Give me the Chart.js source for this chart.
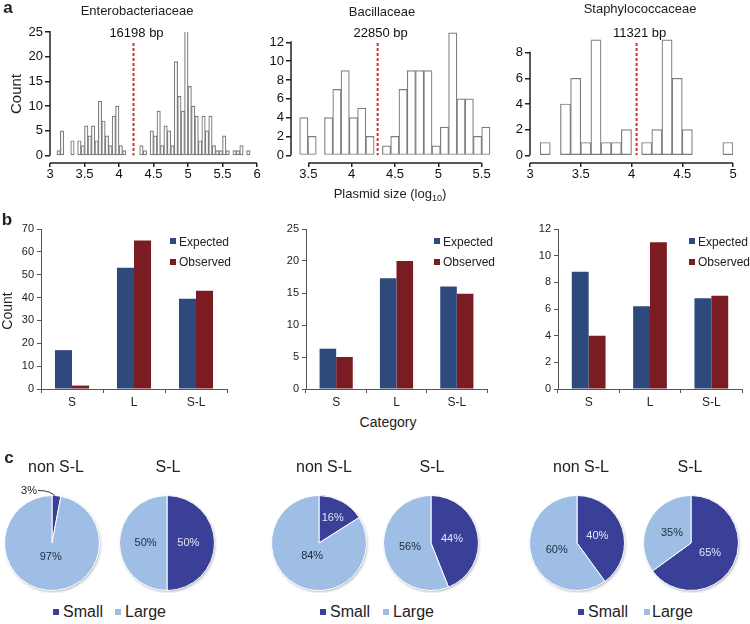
<!DOCTYPE html>
<html>
<head>
<meta charset="utf-8">
<script src="https://cdn.jsdelivr.net/npm/chart.js@4.4.1/dist/chart.umd.min.js"></script>
<style>
body{margin:0;background:#fff;}
#fig{position:relative;width:750px;height:624px;overflow:hidden;background:#fff;font-family:"Liberation Sans",Arial,sans-serif;color:#222;}
#fig canvas{position:absolute;}
.t{position:absolute;white-space:nowrap;line-height:1;transform:translate(-50%,-50%);}
.rot{transform:translate(-50%,-50%) rotate(-90deg);}
.lt{position:absolute;white-space:nowrap;line-height:1;transform:translateY(-50%);}
.sw{position:absolute;width:6px;height:6px;}
.big{font-weight:bold;font-size:17px;}
</style>
</head>
<body>
<div id="fig">

<canvas id="h1" width="262" height="185" style="left:0;top:0"></canvas>
<canvas id="h2" width="262" height="185" style="left:240px;top:0"></canvas>
<canvas id="h3" width="270" height="185" style="left:480px;top:0"></canvas>

<canvas id="b1" width="232" height="212" style="left:0;top:200px"></canvas>
<canvas id="b2" width="227" height="212" style="left:265px;top:200px"></canvas>
<canvas id="b3" width="233" height="212" style="left:517px;top:200px"></canvas>

<canvas id="p1" width="110" height="130" style="left:-3px;top:463px"></canvas>
<canvas id="p2" width="110" height="130" style="left:112px;top:463px"></canvas>
<canvas id="p3" width="110" height="130" style="left:264px;top:463px"></canvas>
<canvas id="p4" width="110" height="130" style="left:376px;top:463px"></canvas>
<canvas id="p5" width="110" height="130" style="left:522px;top:463px"></canvas>
<canvas id="p6" width="110" height="130" style="left:636px;top:463px"></canvas>

<!-- panel a text -->
<div class="t big" style="left:8px;top:7px">a</div>
<div class="t" style="left:137px;top:10px;font-size:13px">Enterobacteriaceae</div>
<div class="t" style="left:382px;top:11px;font-size:13px">Bacillaceae</div>
<div class="t" style="left:640px;top:8px;font-size:13px">Staphylococcaceae</div>
<div class="t rot" style="left:15px;top:94px;font-size:15px">Count</div>
<div class="t" style="left:390px;top:195px;font-size:13px">Plasmid size (log<sub style="font-size:9px">10</sub>)</div>

<!-- panel b text -->
<div class="t big" style="left:7px;top:219px">b</div>
<div class="t rot" style="left:7px;top:311px;font-size:14px">Count</div>
<div class="t" style="left:388px;top:422px;font-size:14px">Category</div>

<div class="sw" style="left:170px;top:238px;background:#2e4a7c"></div>
<div class="lt" style="left:179px;top:242px;font-size:12px">Expected</div>
<div class="sw" style="left:170px;top:259px;background:#7b1c22"></div>
<div class="lt" style="left:179px;top:262px;font-size:12px">Observed</div>

<div class="sw" style="left:434px;top:238px;background:#2e4a7c"></div>
<div class="lt" style="left:443px;top:242px;font-size:12px">Expected</div>
<div class="sw" style="left:434px;top:259px;background:#7b1c22"></div>
<div class="lt" style="left:443px;top:262px;font-size:12px">Observed</div>

<div class="sw" style="left:689px;top:238px;background:#2e4a7c"></div>
<div class="lt" style="left:698px;top:242px;font-size:12px">Expected</div>
<div class="sw" style="left:689px;top:259px;background:#7b1c22"></div>
<div class="lt" style="left:698px;top:262px;font-size:12px">Observed</div>

<!-- panel c text -->
<div class="t big" style="left:9px;top:457px">c</div>
<div class="t" style="left:56px;top:467px;font-size:16px">non S-L</div>
<div class="t" style="left:168px;top:467px;font-size:16px">S-L</div>
<div class="t" style="left:324px;top:467px;font-size:16px">non S-L</div>
<div class="t" style="left:432px;top:467px;font-size:16px">S-L</div>
<div class="t" style="left:581px;top:467px;font-size:16px">non S-L</div>
<div class="t" style="left:690px;top:467px;font-size:16px">S-L</div>

<div class="sw" style="left:53px;top:609px;background:#3a4098"></div>
<div class="lt" style="left:63px;top:612px;font-size:16px">Small</div>
<div class="sw" style="left:115px;top:609px;background:#9ebee6"></div>
<div class="lt" style="left:125px;top:612px;font-size:16px">Large</div>

<div class="sw" style="left:320px;top:609px;background:#3a4098"></div>
<div class="lt" style="left:330px;top:612px;font-size:16px">Small</div>
<div class="sw" style="left:383px;top:609px;background:#9ebee6"></div>
<div class="lt" style="left:393px;top:612px;font-size:16px">Large</div>

<div class="sw" style="left:578px;top:609px;background:#3a4098"></div>
<div class="lt" style="left:588px;top:612px;font-size:16px">Small</div>
<div class="sw" style="left:644px;top:609px;background:#9ebee6"></div>
<div class="lt" style="left:652px;top:612px;font-size:16px">Large</div>

</div>

<script>
// DATA

// histograms: counts per log10 size bin
const enteroStart = 3.10, enteroWidth = 0.05;
const enteroCounts = [1,5,0,0,3,0,3,2,6,4,6,3,11,7,4,2,8,10,2,1,0,0,0,0,2,1,0,5,4,9,2,6,5,2,19,12,9,26,14,10,8,3,8,5,8,2,1,1,4,1,0,1,1,2,0,1];
const bacilStart = 3.40, bacilWidth = 0.0955;
const bacilCounts = [4,2,0,4,7,9,4,5,2,0,1,2,7,9,9,9,1,3,13,6,6,2,3];
const staphStart = 3.10, staphWidth = 0.10;
const staphCounts = [1,0,4,6,1,9,1,1,2,0,1,2,9,6,2,0,0,0,1];

const medianLabels = ["16198 bp", "22850 bp", "11321 bp"];
const medianPos = [4.21, 4.30, 4.05];

const enteroXTicks = [3, 3.5, 4, 4.5, 5, 5.5, 6];
const bacilXTicks = [3.5, 4, 4.5, 5, 5.5];
const staphXTicks = [3, 3.5, 4, 4.5, 5];
const enteroYTicks = [0, 5, 10, 15, 20, 25];
const bacilYTicks = [0, 2, 4, 6, 8, 10, 12];
const staphYTicks = [0, 2, 4, 6, 8];

// expected vs observed counts
const categories = ["S", "L", "S-L"];
const enteroExpected = [17, 53, 39.5];
const enteroObserved = [1.5, 65, 43];
const bacilExpected = [6.3, 17.3, 16];
const bacilObserved = [5, 20, 14.9];
const staphExpected = [8.8, 6.2, 6.8];
const staphObserved = [4, 11, 7];

// pies: percent small / large
const sizeLabels = ["Small", "Large"];
const pieSmall = [3, 50, 16, 44, 40, 65];
const pieLarge = [97, 50, 84, 56, 60, 35];

// DEFAULTS

Chart.defaults.font.family = '"Liberation Sans", Arial, sans-serif';
Chart.defaults.color = '#222';
Chart.defaults.animation = false;
Chart.defaults.responsive = false;
Chart.defaults.devicePixelRatio = 1;
Chart.defaults.plugins.legend.display = false;
Chart.defaults.plugins.tooltip.enabled = false;

// HISTOGRAM AXES + MEDIAN LINE

const prismAxes = {
id: 'prism',
afterDatasetsDraw(chart, args, opts){
const ctx = chart.ctx;
const a = chart.chartArea;
const x = chart.scales.x, y = chart.scales.y;
const xt = x.ticks, yt = y.ticks;
ctx.save();
ctx.strokeStyle = '#222';
ctx.lineWidth = 1.5;
ctx.beginPath();
ctx.moveTo(a.left, y.getPixelForValue(yt[0].value));
ctx.lineTo(a.left, y.getPixelForValue(yt[yt.length-1].value) - 1);
ctx.moveTo(x.getPixelForValue(xt[0].value), a.bottom);
ctx.lineTo(x.getPixelForValue(xt[xt.length-1].value), a.bottom);
ctx.stroke();

const mx = x.getPixelForValue(opts.median);
ctx.strokeStyle = '#d5352e';
ctx.lineWidth = 2;
ctx.setLineDash([3, 2]);
ctx.beginPath();
ctx.moveTo(mx, 43);
ctx.lineTo(mx, y.getPixelForValue(0));
ctx.stroke();
ctx.setLineDash([]);

ctx.fillStyle = '#111';
ctx.font = '13px "Liberation Sans", Arial, sans-serif';
ctx.textAlign = 'center';
ctx.textBaseline = 'middle';
ctx.fillText(opts.label, mx + 3, 33);
ctx.restore();
}
};

function histogram(id, start, width, counts, xr, yr, xTicks, yTicks, median, label, pad, yW){

let pts = counts.map(function(c, i){ return {x: start + width * (i + 0.5), y: c}; });

new Chart(document.getElementById(id), {
type: 'bar',
data: {
datasets: [{
data: pts,
backgroundColor: '#fff',
borderColor: '#7d7d7d',
borderWidth: 1.2,
borderSkipped: false,
barPercentage: 1,
categoryPercentage: 1
}]
},
options: {
layout: {padding: pad},
scales: {
x: {
type: 'linear', min: xr[0], max: xr[1], offset: false,
afterBuildTicks: function(s){ s.ticks = xTicks.map(function(v){ return {value: v}; }); },
afterFit: function(s){ s.height = 22; s.paddingLeft = 0; s.paddingRight = 0; },
border: {display: false},
grid: {drawOnChartArea: false, offset: false, tickLength: 4, color: '#222', lineWidth: 1.5},
ticks: {padding: 0, color: '#111', font: {size: 13}, maxRotation: 0, callback: function(v){ return String(v); }}
},
y: {
min: yr[0], max: yr[1],
afterBuildTicks: function(s){ s.ticks = yTicks.map(function(v){ return {value: v}; }); },
afterFit: function(s){ s.width = yW; s.paddingTop = 0; s.paddingBottom = 0; },
border: {display: false},
grid: {drawOnChartArea: false, tickLength: 5, color: '#222', lineWidth: 1.5},
ticks: {padding: 2, color: '#111', font: {size: 13}, callback: function(v){ return String(v); }}
}
},
plugins: {prism: {median: median, label: label}}
},
plugins: [prismAxes]
});

}

histogram("h1", enteroStart, enteroWidth, enteroCounts, [3, 6], [-1.5, 25], enteroXTicks, enteroYTicks, medianPos[0], medianLabels[0], {top: 32, right: 5, left: 0, bottom: 0}, 50);
histogram("h2", bacilStart, bacilWidth, bacilCounts, [3.3, 5.62], [-0.82, 13.2], bacilXTicks, bacilYTicks, medianPos[1], medianLabels[1], {top: 31, right: 10, left: 0, bottom: 0}, 51);
histogram("h3", staphStart, staphWidth, staphCounts, [3, 5], [-0.6, 9.3], staphXTicks, staphYTicks, medianPos[2], medianLabels[2], {top: 36, right: 17, left: 0, bottom: 0}, 50);

// EXPECTED / OBSERVED BARS

function countBars(id, exp, obs, yMax, yStep, pad){

new Chart(document.getElementById(id), {
type: 'bar',
data: {
labels: categories,
datasets: [
{label: 'Expected', data: exp, backgroundColor: '#2e4a7c'},
{label: 'Observed', data: obs, backgroundColor: '#7b1c22'}
]
},
options: {
layout: {padding: pad},
datasets: {bar: {barPercentage: 1, categoryPercentage: 0.55}},
scales: {
x: {
afterFit: function(s){ s.height = 23; s.paddingLeft = 0; s.paddingRight = 0; },
border: {color: '#555'},
grid: {drawOnChartArea: false, tickLength: 4, color: '#555'},
ticks: {padding: 2, color: '#222', font: {size: 12}}
},
y: {
min: 0, max: yMax,
afterFit: function(s){ s.width = 41; s.paddingTop = 0; s.paddingBottom = 0; },
border: {color: '#555'},
grid: {drawOnChartArea: false, tickLength: 4, color: '#555'},
ticks: {stepSize: yStep, padding: 3, color: '#222', font: {size: 11}}
}
}
}
});

}

countBars("b1", enteroExpected, enteroObserved, 70, 10, {top: 29, right: 5, left: 0, bottom: 0});
countBars("b2", bacilExpected, bacilObserved, 25, 5, {top: 29, right: 5, left: 0, bottom: 0});
countBars("b3", staphExpected, staphObserved, 12, 2, {top: 29, right: 8, left: 0, bottom: 0});

// PIE SHADOW + LABELS

const pieShadow = {
id: 'pieShadow',
beforeDatasetsDraw(chart){
const ctx = chart.ctx;
const arc = chart.getDatasetMeta(0).data[0];
ctx.save();
ctx.shadowColor = 'rgba(0,0,0,0.35)';
ctx.shadowBlur = 3;
ctx.shadowOffsetX = 1;
ctx.shadowOffsetY = 1.5;
ctx.fillStyle = '#9ebee6';
ctx.beginPath();
ctx.arc(arc.x, arc.y, arc.outerRadius - 0.5, 0, Math.PI * 2);
ctx.fill();
ctx.restore();
}
};

const pieLabels = {
id: 'pieLabels',
afterDatasetsDraw(chart){
const ctx = chart.ctx;
const vals = chart.data.datasets[0].data;
ctx.save();
ctx.font = '11px "Liberation Sans", Arial, sans-serif';
ctx.textBaseline = 'middle';
chart.getDatasetMeta(0).data.forEach(function(arc, i){
let v = vals[i];
let mid = (arc.startAngle + arc.endAngle) / 2;
let R = arc.outerRadius;
if(v < 5){
let px = arc.x + Math.cos(mid) * R, py = arc.y + Math.sin(mid) * R;
let tx = arc.x - 14, ty = arc.y - R - 5;
ctx.strokeStyle = '#333';
ctx.lineWidth = 1;
ctx.beginPath();
ctx.moveTo(tx, ty);
ctx.quadraticCurveTo(px - 5, ty, px - 1, py + 1);
ctx.stroke();
ctx.fillStyle = '#222';
ctx.textAlign = 'right';
ctx.fillText(v + '%', tx - 1, ty);
return;
}
let f = v >= 80 ? 0.3 : (v <= 20 ? 0.6 : 0.45);
ctx.fillStyle = i === 0 ? '#e3e6f6' : '#1d2a3a';
ctx.textAlign = 'center';
ctx.fillText(v + '%', arc.x + Math.cos(mid) * R * f, arc.y + Math.sin(mid) * R * f);
});
ctx.restore();
}
};

function sizePie(id, small, large){

new Chart(document.getElementById(id), {
type: 'pie',
data: {
labels: sizeLabels,
datasets: [{
data: [small, large],
backgroundColor: ['#3a4098', '#9ebee6'],
borderColor: '#fff',
borderWidth: 1
}]
},
options: {
layout: {padding: {top: 32, bottom: 2, left: 7, right: 7}}
},
plugins: [pieShadow, pieLabels]
});

}

for(let i = 0; i < pieSmall.length; i++){
sizePie("p" + (i + 1), pieSmall[i], pieLarge[i]);
}
</script>
</body>
</html>
